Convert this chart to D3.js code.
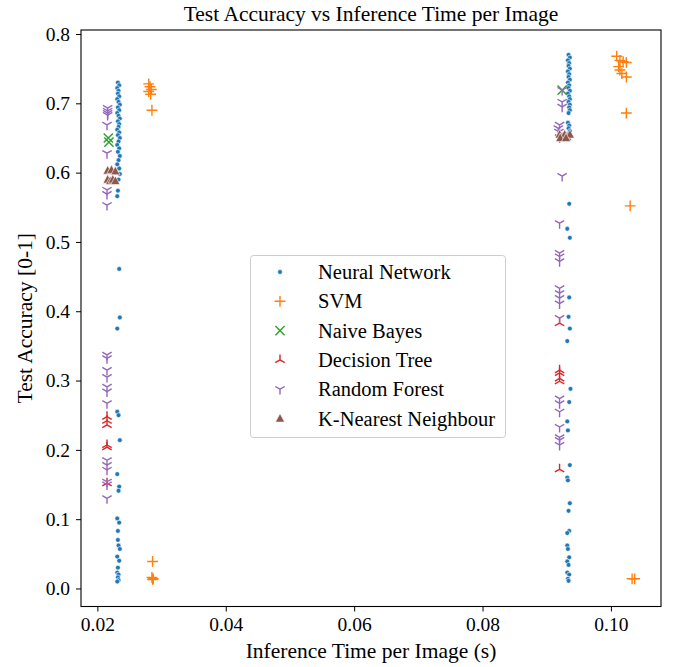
<!DOCTYPE html>
<html><head><meta charset="utf-8">
<script src="https://cdn.jsdelivr.net/npm/d3@7"></script>
<style>body{margin:0;background:#fff}svg{display:block}svg text{font-family:"Liberation Serif","Times New Roman",serif !important;fill:#000}</style>
</head><body><div id="chart"></div>
<script>
// ---- data: [inference time (s), test accuracy] ----
const neuralNetwork = [
 [0.0232,0.730],[0.0234,0.726],[0.0231,0.722],[0.0233,0.718],[0.0232,0.714],[0.0234,0.710],[0.0231,0.706],[0.0233,0.702],[0.0235,0.698],[0.0232,0.694],
 [0.0234,0.690],[0.0231,0.686],[0.0233,0.682],[0.0235,0.678],[0.0232,0.674],[0.0234,0.670],[0.0233,0.666],[0.0231,0.662],[0.0234,0.658],[0.0232,0.654],
 [0.0235,0.650],[0.0233,0.645],[0.0231,0.640],[0.0234,0.635],[0.0232,0.630],[0.0235,0.624],[0.0233,0.618],[0.0231,0.612],[0.0234,0.606],[0.0235,0.598],
 [0.0233,0.590],[0.0232,0.574],[0.0231,0.566],
 [0.0234,0.461],[0.0235,0.391],[0.0231,0.375],[0.0231,0.255],[0.0233,0.250],[0.0235,0.214],[0.0231,0.165],[0.0234,0.147],[0.0233,0.141],
 [0.0231,0.101],[0.0234,0.095],[0.0232,0.083],[0.0232,0.070],[0.0233,0.062],[0.0235,0.057],[0.0231,0.046],[0.0234,0.040],[0.0232,0.030],
 [0.0231,0.023],[0.0233,0.020],[0.0232,0.016],[0.0233,0.012],[0.0231,0.010],
 [0.0934,0.770],[0.0936,0.766],[0.0933,0.762],[0.0935,0.758],[0.0934,0.754],[0.0936,0.750],[0.0933,0.746],[0.0935,0.742],[0.0934,0.738],[0.0936,0.734],
 [0.0933,0.730],[0.0935,0.726],[0.0934,0.722],[0.0936,0.718],[0.0933,0.714],[0.0935,0.710],[0.0936,0.706],[0.0934,0.702],[0.0936,0.698],[0.0935,0.694],
 [0.0936,0.690],[0.0934,0.686],[0.0933,0.672],[0.0935,0.668],[0.0934,0.664],[0.0936,0.660],[0.0933,0.656],[0.0935,0.652],[0.0934,0.648],
 [0.0935,0.555],[0.0932,0.519],[0.0936,0.506],[0.0935,0.420],[0.0934,0.392],[0.0936,0.375],[0.0932,0.357],[0.0937,0.288],[0.0935,0.269],
 [0.0932,0.241],[0.0933,0.228],[0.0936,0.178],[0.0932,0.160],[0.0933,0.156],[0.0936,0.123],[0.0934,0.112],[0.0935,0.083],[0.0932,0.080],
 [0.0932,0.062],[0.0933,0.057],[0.0935,0.045],[0.0932,0.039],[0.0934,0.034],[0.0932,0.023],[0.0935,0.020],[0.0933,0.014],[0.0934,0.011]
];
const svm = [
 [0.0280,0.728],[0.0282,0.724],[0.0284,0.720],[0.0280,0.717],[0.0283,0.713],[0.0285,0.690],
 [0.0286,0.039],[0.0285,0.016],[0.0287,0.014],[0.0286,0.013],
 [0.1009,0.768],[0.1014,0.762],[0.1019,0.760],[0.1024,0.759],[0.1012,0.753],[0.1014,0.748],[0.1017,0.743],[0.1024,0.738],
 [0.1024,0.686],[0.1030,0.552],[0.1033,0.014],[0.1037,0.014]
];
const naiveBayes = [[0.0217,0.650],[0.0218,0.644],[0.0924,0.719]];
const decisionTree = [
 [0.0215,0.248],[0.0215,0.242],[0.0215,0.236],[0.0215,0.207],[0.0215,0.204],[0.0215,0.152],
 [0.0920,0.383],[0.0920,0.315],[0.0920,0.311],[0.0920,0.303],[0.0920,0.299],[0.0920,0.172]
];
const randomForest = [
 [0.0216,0.693],[0.0216,0.689],[0.0216,0.686],[0.0216,0.683],[0.0215,0.669],[0.0215,0.628],[0.0215,0.575],[0.0215,0.569],[0.0215,0.553],
 [0.0215,0.337],[0.0215,0.332],[0.0215,0.315],[0.0215,0.305],[0.0215,0.291],[0.0215,0.284],[0.0215,0.267],
 [0.0215,0.185],[0.0215,0.178],[0.0215,0.171],[0.0215,0.154],[0.0215,0.150],[0.0215,0.130],
 [0.0924,0.719],[0.0924,0.702],[0.0924,0.695],[0.0920,0.669],[0.0918,0.664],[0.0919,0.659],[0.0920,0.651],[0.0924,0.595],
 [0.0920,0.527],[0.0920,0.484],[0.0920,0.479],[0.0920,0.472],[0.0920,0.433],[0.0920,0.426],[0.0920,0.419],[0.0920,0.411],[0.0920,0.390],
 [0.0920,0.274],[0.0920,0.267],[0.0920,0.255],[0.0920,0.233],[0.0920,0.218],[0.0920,0.214],[0.0920,0.207]
];
const knn = [
 [0.0216,0.603],[0.0222,0.604],[0.0228,0.602],[0.0216,0.590],[0.0220,0.588],[0.0224,0.590],[0.0228,0.588],
 [0.0920,0.655],[0.0924,0.652],[0.0928,0.655],[0.0932,0.652],[0.0936,0.655],[0.0921,0.650],[0.0930,0.650]
];
const xTicks = [0.02,0.04,0.06,0.08,0.10];
const yTicks = [0.0,0.1,0.2,0.3,0.4,0.5,0.6,0.7,0.8];
const seriesNames = ["Neural Network","SVM","Naive Bayes","Decision Tree","Random Forest","K-Nearest Neighbour"];
const seriesColors = ["#1f77b4","#ff7f0e","#2ca02c","#d62728","#9467bd","#8c564b"];
const seriesData = [neuralNetwork, svm, naiveBayes, decisionTree, randomForest, knn];
const seriesMarkers = ["dot","plus","x","triUp","triDown","triangle"];

// ---- layout ----
const W = 677, H = 667;
const L = 81, R = 661, T = 30, B = 606.5;
const SERIF = '"Liberation Serif", "Times New Roman", serif';
const x = d3.scaleLinear().domain([0.01745, 0.1078]).range([L, R]);
const y = d3.scaleLinear().domain([-0.0260, 0.8058]).range([B, T]);

const svg = d3.select("#chart").append("svg").attr("width", W).attr("height", H);
svg.append("rect").attr("width", W).attr("height", H).attr("fill", "#fff");

function markerPath(type) {
  const s = 5.4;
  switch (type) {
    case "plus": return `M${-s},0H${s}M0,${-s}V${s}`;
    case "x": return `M${-s*0.85},${-s*0.85}L${s*0.85},${s*0.85}M${-s*0.85},${s*0.85}L${s*0.85},${-s*0.85}`;
    case "triUp": return `M0,0V${-s}M0,0L${-s*0.866},${s*0.5}M0,0L${s*0.866},${s*0.5}`;
    case "triDown": return `M0,0V${s}M0,0L${-s*0.866},${-s*0.5}M0,0L${s*0.866},${-s*0.5}`;
    case "triangle": return `M0,${-5}L${4.6},${3.6}L${-4.6},${3.6}Z`;
  }
}
function drawMarker(g, type, color) {
  if (type === "dot") {
    g.append("circle").attr("r", 2.4).attr("fill", color).attr("stroke", "#fff").attr("stroke-width", 0.6);
  } else if (type === "triangle") {
    g.append("path").attr("d", markerPath(type)).attr("fill", color).attr("stroke", "#fff").attr("stroke-width", 0.6);
  } else {
    g.append("path").attr("d", markerPath(type)).attr("fill", "none").attr("stroke", color).attr("stroke-width", 1.4);
  }
}

const plot = svg.append("g");
seriesData.forEach((data, i) => {
  const gs = plot.append("g");
  data.forEach(d => {
    const g = gs.append("g").attr("transform", `translate(${x(d[0])},${y(d[1])})`);
    drawMarker(g, seriesMarkers[i], seriesColors[i]);
  });
});

// axes
const xAxis = svg.append("g").attr("transform", `translate(0,${B})`)
  .call(d3.axisBottom(x).tickValues(xTicks).tickFormat(d3.format(".2f")).tickSize(5).tickPadding(6));
const yAxis = svg.append("g").attr("transform", `translate(${L},0)`)
  .call(d3.axisLeft(y).tickValues(yTicks).tickFormat(d3.format(".1f")).tickSize(5).tickPadding(6));
[xAxis, yAxis].forEach(a => {
  a.attr("font-family", SERIF).attr("font-size", 19.5);
  a.select(".domain").remove();
  a.selectAll(".tick line").attr("stroke", "#000").attr("stroke-width", 1);
  a.selectAll(".tick text").style("font-family", SERIF).style("font-size", "19.5px").attr("fill", "#000");
});
svg.append("rect").attr("x", L).attr("y", T).attr("width", R - L).attr("height", B - T)
  .attr("fill", "none").attr("stroke", "#000").attr("stroke-width", 1.1);

// titles
svg.append("text").attr("x", (L + R) / 2).attr("y", 21).attr("text-anchor", "middle")
  .style("font-family", SERIF).style("font-size", "21.5px").text("Test Accuracy vs Inference Time per Image");
svg.append("text").attr("x", (L + R) / 2).attr("y", 658).attr("text-anchor", "middle")
  .style("font-family", SERIF).style("font-size", "21.5px").text("Inference Time per Image (s)");
svg.append("text").attr("transform", `translate(32,${(T + B) / 2}) rotate(-90)`).attr("text-anchor", "middle")
  .style("font-family", SERIF).style("font-size", "21.5px").text("Test Accuracy [0-1]");

// legend
const lg = svg.append("g");
lg.append("rect").attr("x", 250.5).attr("y", 255.5).attr("width", 255).attr("height", 182).attr("rx", 3)
  .attr("fill", "#fff").attr("fill-opacity", 0.8).attr("stroke", "#ccc").attr("stroke-width", 1);
seriesNames.forEach((name, i) => {
  const yy = 272 + i * 29.3;
  const g = lg.append("g").attr("transform", `translate(280,${yy})`);
  drawMarker(g, seriesMarkers[i], seriesColors[i]);
  lg.append("text").attr("x", 318).attr("y", yy + 7).style("font-family", SERIF).style("font-size", "20.5px").text(name);
});
</script></body></html>
